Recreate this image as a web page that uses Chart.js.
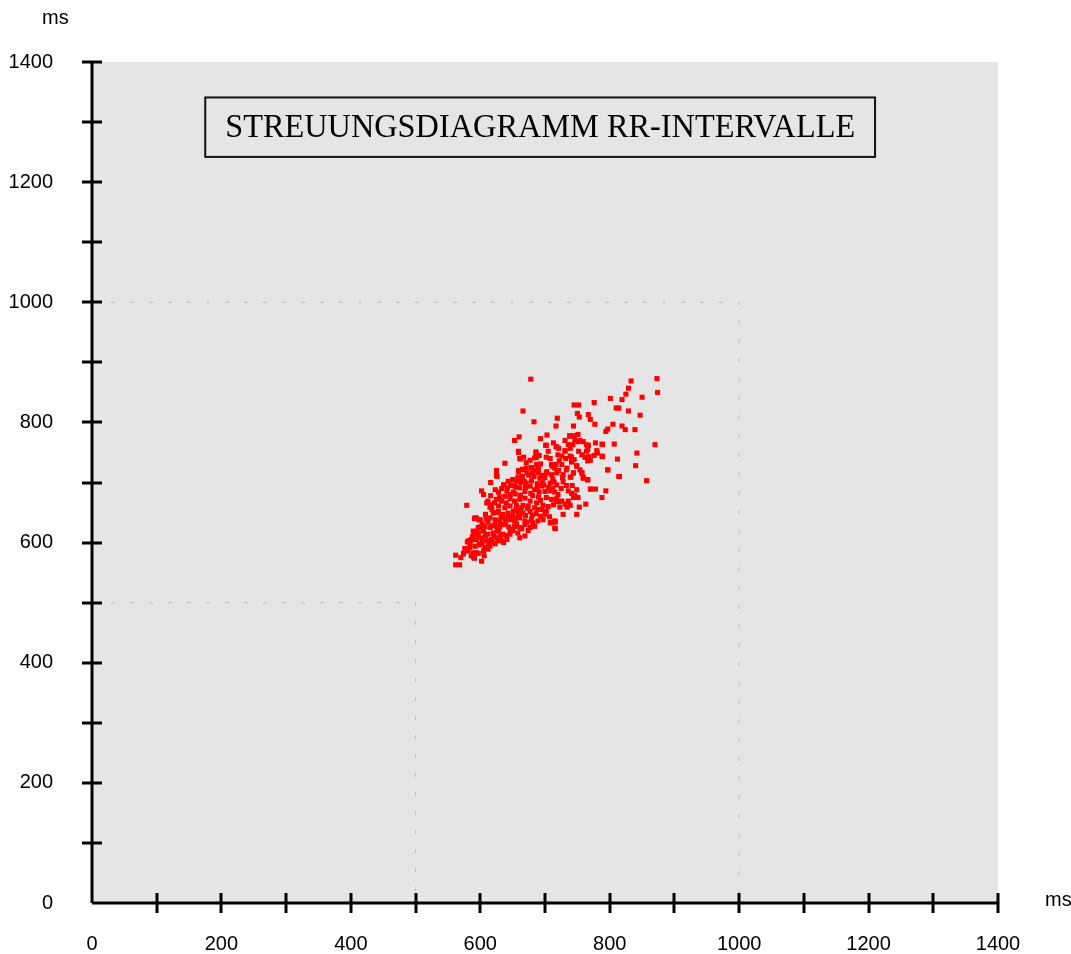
<!DOCTYPE html>
<html>
<head>
<meta charset="utf-8">
<title>Streuungsdiagramm RR-Intervalle</title>
<script src="https://cdn.jsdelivr.net/npm/chart.js@4.4.1/dist/chart.umd.min.js"></script>
<style>
  html, body { margin: 0; padding: 0; background: #fff; }
  #wrap { width: 1071px; height: 954px; position: relative; }
</style>
</head>
<body>
<div id="wrap"><canvas id="rrChart"></canvas></div>
<script>
/* Poincaré plot: RR(n) in ms vs RR(n+1) in ms */
const chartTitle = "STREUUNGSDIAGRAMM RR-INTERVALLE";
const unitLabel = "ms";
const axisMin = 0, axisMax = 1400, tickStep = 100, labelStep = 200;

// guide boxes (dotted) at 500 ms and 1000 ms
const guide500  = [[0, 500], [500, 500], [500, 0]];
const guide1000 = [[0, 1000], [1000, 1000], [1000, 0]];

// [RR(n), RR(n+1)]
const rrPoints = [
  [678,872],[833,869],[873,873],[874,850],[829,857],[825,847],[819,838],[801,840],[850,842],[776,833],
  [745,829],[752,829],[810,824],[814,824],[829,819],[666,819],[750,815],[767,813],[847,812],[753,809],
  [719,807],[770,805],[683,801],[777,797],[717,794],[744,794],[805,797],[819,794],[797,789],[794,785],
  [824,788],[839,788],[660,776],[653,770],[703,779],[693,773],[738,778],[751,780],[731,770],[713,766],
  [702,762],[718,759],[870,763],[807,764],[789,763],[778,766],[842,749],[840,728],[812,739],[814,710],
  [857,703],[797,721],[789,743],[781,749],[776,745],[766,736],[763,742],[768,743],[771,689],[778,689],
  [794,686],[788,675],[763,664],[753,659],[749,647],[728,647],[716,623],[715,634],[709,633],[766,705],
  [759,709],[757,716],[740,709],[744,716],[749,728],[741,742],[731,753],[739,757],[743,763],[751,768],
  [759,768],[764,763],[766,755],[579,662],[602,686],[605,680],[616,700],[625,720],[626,710],[638,732],
  [659,750],[667,742],[662,739],[686,749],[691,745],[687,742],[638,677],[637,696],[649,695],[656,692],
  [663,700],[562,579],[562,563],[568,563],[574,581],[591,574],[602,569],[582,603],[586,605],[591,617],
  [594,619],[591,640],[594,641],[600,638],
  [744,778],[739,777],[746,771],[754,770],[767,762],[764,752],[788,764],[788,744],[780,753],[770,737],
  [762,742],[739,744],[741,734],[731,752],[726,744],[721,757],[736,763],[726,730],[749,727],[757,746],
  [734,724],
  [717,760],[659,752],[686,751],[705,752],[701,762],[661,740],[677,737],[671,733],[684,741],[690,745],
  [708,740],[702,742],[710,730],[717,730],[720,746],[687,730],[693,731],[659,720],[665,722],[671,724],
  [679,725],[686,719],[703,718],[715,724],
  [625,712],[659,717],[666,721],[672,716],[665,710],[683,721],[690,716],[695,712],[702,716],[710,713],
  [718,716],[656,702],[664,707],[671,699],[679,703],[688,698],[696,702],[708,699],[714,701],
  [636,696],[647,696],[653,694],[661,691],[669,685],[677,694],[684,688],[691,684],[700,685],[708,686],
  [715,684],[628,684],[641,686],[646,680],[651,684],
  [612,669],[617,663],[625,672],[633,669],[640,666],[646,673],[653,669],[661,672],[669,674],[677,669],
  [687,666],[693,670],[702,675],[710,672],[718,669],[610,666],[615,659],[628,661],[638,658],[646,661],
  [656,662],[664,658],[674,661],[684,658],[695,655],[702,652],[713,663],
  [620,649],[628,652],[635,647],[643,649],[651,652],[659,647],[666,649],[677,652],[686,648],[693,644],
  [700,647],[592,641],[598,638],[615,641],[623,638],[630,636],[638,641],[646,638],[653,636],[661,641],
  [669,636],[679,638],[689,636],[708,633],[715,636],
  [607,627],[615,625],[623,630],[630,626],[638,630],[646,622],[653,627],[661,625],[669,630],[677,625],
  [684,627],[715,624],[589,619],[597,616],[605,619],[612,614],[620,616],[628,619],[635,614],[646,614],
  [661,608],[669,611],
  [586,604],[594,605],[602,608],[610,603],[617,605],[625,608],[633,603],[641,605],[580,601],[584,592],
  [592,594],[599,597],[607,592],[615,594],[623,598],
  [581,586],[589,583],[597,582],[605,586],[612,589],[574,582],[590,575],
  [721,720],[733,721],[744,716],[754,721],[757,716],[728,713],[739,709],[718,696],[728,701],[797,721],
  [815,710],[759,707],[766,704],[742,695],[749,688],[736,686],[741,682],[746,679],[770,689],[736,669],
  [751,675],[744,675],[718,673],[721,668],[726,669],[731,664],[739,662],[723,659],[734,659],[716,635],
  // dense core, second pass
  [584,597],[588,610],[596,612],[603,600],[608,611],[618,601],[621,612],[627,603],[631,611],[636,600],
  [640,612],[644,626],[650,620],[656,631],[658,616],[664,623],[672,634],[674,620],[681,633],[650,644],
  [655,655],[662,653],[670,645],[673,657],[680,645],[688,655],[697,662],[705,660],[707,643],[697,638],
  [612,634],[619,628],[626,622],[632,630],[639,634],[644,643],[632,643],[625,650],[618,655],[608,647],
  [603,630],[597,625],[609,639],[622,666],[630,676],[642,691],[654,681],[662,679],[670,692],[681,678],
  [688,690],[695,694],[705,692],[712,690],[720,680],[725,690],[733,695],[727,708],[712,706],[700,708],
  [692,707],[683,710],[675,712],[668,702],[658,708],[650,705],[643,702],[633,690],[623,688],[616,678],
  [598,596],[594,583],[576,590],[570,575],[586,578],[606,578],[613,597],[600,626],[655,641],[666,662],
  [678,682],[690,676],[698,696],[711,727],[722,736],[732,740],[745,738],[752,752],[690,724],[680,716]
];

const rrX = rrPoints.map(p => p[0]);
const rrY = rrPoints.map(p => p[1]);
const toXY = arr => arr.map(p => ({ x: p[0], y: p[1] }));

const frame = {
  id: "frame",
  beforeDraw(chart) {
    const { ctx, chartArea: a } = chart;
    ctx.save();
    ctx.fillStyle = "#e5e5e5";
    ctx.fillRect(a.left, a.top, a.right - a.left, a.bottom - a.top);
    ctx.restore();
  },
  afterDatasetsDraw(chart) {
    const { ctx, chartArea: a, scales: { x, y } } = chart;
    ctx.save();

    // title box
    const bl = x.getPixelForValue(175), br = x.getPixelForValue(1210);
    const bt = y.getPixelForValue(1341), bb = y.getPixelForValue(1242);
    ctx.fillStyle = "#e5e5e5";
    ctx.fillRect(bl, bt, br - bl, bb - bt);
    ctx.strokeStyle = "#111";
    ctx.lineWidth = 2;
    ctx.strokeRect(bl, bt, br - bl, bb - bt);
    ctx.fillStyle = "#000";
    ctx.font = "33px 'Liberation Serif', 'Times New Roman', serif";
    ctx.textAlign = "center";
    ctx.textBaseline = "middle";
    ctx.fillText(chartTitle, (bl + br) / 2, (bt + bb) / 2 + 1, 630);

    // axes
    ctx.strokeStyle = "#000";
    ctx.lineWidth = 3;
    ctx.beginPath();
    ctx.moveTo(a.left, a.top); ctx.lineTo(a.left, a.bottom);
    ctx.moveTo(a.left, a.bottom); ctx.lineTo(a.right, a.bottom);
    ctx.stroke();

    // tick marks crossing the axes
    ctx.beginPath();
    for (let v = axisMin + tickStep; v <= axisMax; v += tickStep) {
      const px = Math.round(x.getPixelForValue(v));
      ctx.moveTo(px, a.bottom - 10); ctx.lineTo(px, a.bottom + 10);
      const py = Math.round(y.getPixelForValue(v));
      ctx.moveTo(a.left - 10, py); ctx.lineTo(a.left + 10, py);
    }
    ctx.stroke();

    // unit labels
    ctx.font = "20px 'Liberation Sans', Arial, sans-serif";
    ctx.textAlign = "left";
    ctx.textBaseline = "middle";
    ctx.fillText(unitLabel, 42, 18);
    ctx.fillText(unitLabel, 1045, 900);
    ctx.restore();
  }
};

Chart.defaults.font.family = "'Liberation Sans', Arial, sans-serif";
Chart.defaults.color = "#000";

const tickFmt = v => (v % labelStep === 0 ? String(v) : "");

new Chart(document.getElementById("rrChart"), {
  type: "scatter",
  data: {
    datasets: [
      {
        label: "RR",
        data: rrX.map((v, i) => ({ x: v, y: rrY[i] })),
        pointStyle: "rect",
        pointRadius: 3.6,
        pointHoverRadius: 3.6,
        backgroundColor: "#ff0000",
        borderColor: "#ff0000",
        borderWidth: 0
      },
      {
        label: "500",
        data: toXY(guide500),
        showLine: true,
        pointRadius: 0,
        borderColor: "#bdbdbd",
        borderWidth: 1,
        borderDash: [4, 15]
      },
      {
        label: "1000",
        data: toXY(guide1000),
        showLine: true,
        pointRadius: 0,
        borderColor: "#bdbdbd",
        borderWidth: 1,
        borderDash: [4, 15]
      }
    ]
  },
  options: {
    responsive: true,
    maintainAspectRatio: false,
    animation: false,
    layout: { padding: { top: 62, right: 73, bottom: 0, left: 0 } },
    plugins: { legend: { display: false }, tooltip: { enabled: false } },
    scales: {
      x: {
        type: "linear", min: axisMin, max: axisMax,
        grid: { display: false, drawTicks: false },
        border: { display: false },
        ticks: { stepSize: tickStep, autoSkip: false, maxRotation: 0, padding: 29,
                 font: { size: 20 }, callback: tickFmt },
        afterFit: s => { s.height = 47; }
      },
      y: {
        type: "linear", min: axisMin, max: axisMax,
        grid: { display: false, drawTicks: false },
        border: { display: false },
        ticks: { stepSize: tickStep, autoSkip: false, padding: 39,
                 font: { size: 20 }, callback: tickFmt },
        afterFit: s => { s.width = 92; }
      }
    }
  },
  plugins: [frame]
});
</script>
</body>
</html>
